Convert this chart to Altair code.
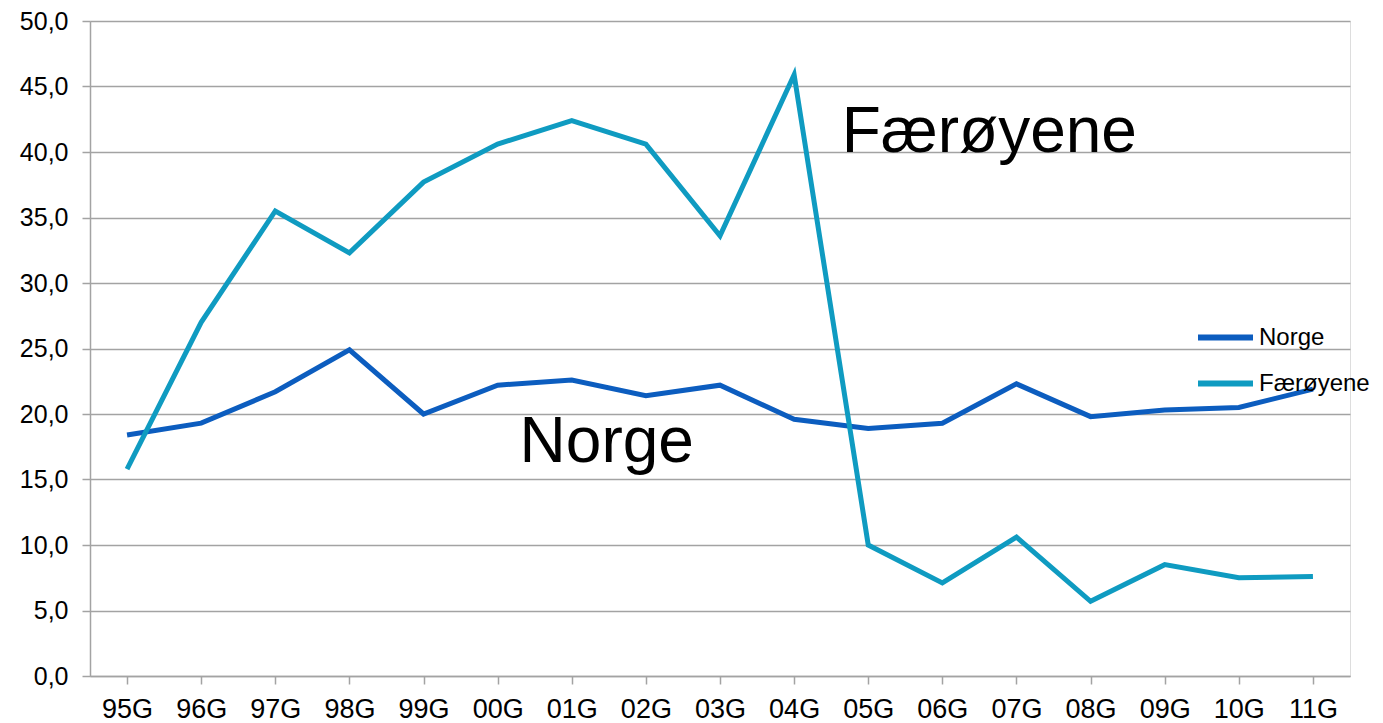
import altair as alt
import pandas as pd

years = ["95G", "96G", "97G", "98G", "99G", "00G", "01G", "02G", "03G",
         "04G", "05G", "06G", "07G", "08G", "09G", "10G", "11G"]
norge = [18.4, 19.3, 21.7, 24.9, 20.0, 22.2, 22.6, 21.4, 22.2,
         19.6, 18.9, 19.3, 22.3, 19.8, 20.3, 20.5, 21.9]
faeroyene = [15.8, 27.0, 35.5, 32.3, 37.7, 40.6, 42.4, 40.6, 33.6,
             45.9, 10.0, 7.1, 10.6, 5.7, 8.5, 7.5, 7.6]
series = ["Norge", "Færøyene"]
colors = ["#0C5DBF", "#0F9BC1"]

ann_text = ["Færøyene", "Norge"]
ann_x = ["06G", "01G"]
ann_y = [40.0, 16.3]

rows = []
for i, y in enumerate(years):
    rows.append({"year": y, "series": series[0], "value": norge[i]})
    rows.append({"year": y, "series": series[1], "value": faeroyene[i]})
df = pd.DataFrame(rows)

FONT = "Liberation Sans"
GRID = "#A3A3A3"

x_enc = alt.X("year:N", sort=years, title=None,
              scale=alt.Scale(paddingInner=0, paddingOuter=0),
              axis=alt.Axis(labelAngle=0, bandPosition=0, domainColor=GRID,
                            domainWidth=1.5, tickColor=GRID, tickWidth=1.5,
                            tickSize=8, labelPadding=12, labelFontSize=27,
                            labelFont=FONT, labelColor="#000000", grid=False))
y_enc = alt.Y("value:Q", title=None,
              scale=alt.Scale(domain=[0, 50], nice=False),
              axis=alt.Axis(values=[0, 5, 10, 15, 20, 25, 30, 35, 40, 45, 50],
                            labelExpr="replace(format(datum.value, '.1f'), '.', ',')",
                            grid=True, gridColor=GRID, gridWidth=1.5,
                            domainColor=GRID, domainWidth=1.5,
                            tickColor=GRID, tickWidth=1.5, tickSize=8,
                            labelPadding=14, labelFontSize=25, labelFont=FONT,
                            labelColor="#000000"))

lines = alt.Chart(df).mark_line(strokeWidth=5).encode(
    x=x_enc,
    y=y_enc,
    color=alt.Color("series:N", sort=series,
                    scale=alt.Scale(domain=series, range=colors),
                    legend=alt.Legend(title=None, orient="none", legendX=1105,
                                      legendY=286, symbolType="stroke",
                                      symbolSize=3025, symbolStrokeWidth=6,
                                      labelFontSize=24, labelFont=FONT,
                                      labelColor="#000000", labelOffset=3,
                                      rowPadding=3)),
    detail="series:N",
)

def annotation(i, dx):
    d = pd.DataFrame({"text": [ann_text[i]], "year": [ann_x[i]], "value": [ann_y[i]]})
    return alt.Chart(d).mark_text(fontSize=64, font=FONT, color="#000000",
                                  align="center", baseline="alphabetic",
                                  dx=dx).encode(
        x=alt.X("year:N", sort=years),
        y="value:Q",
        text="text:N",
    )

chart = alt.layer(lines, annotation(0, 47), annotation(1, 35)).properties(
    width=1260, height=655,
    autosize=alt.AutoSizeParams(type="none"),
    padding={"left": 82, "top": 13, "right": 25, "bottom": 46},
).configure_view(stroke=None).configure(background="white")

chart.save("out.html", embed_options={"renderer": "svg", "actions": False})
